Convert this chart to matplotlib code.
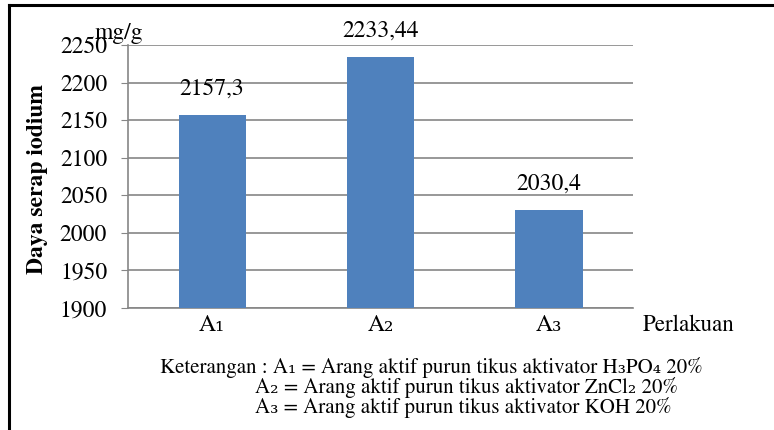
import matplotlib.pyplot as plt
from matplotlib.lines import Line2D

categories = ['A₁', 'A₂', 'A₃']
values = [2157.3, 2233.44, 2030.4]
value_labels = ['2157,3', '2233,44', '2030,4']
yticks = [1900, 1950, 2000, 2050, 2100, 2150, 2200, 2250]
notes = [
    'Keterangan : A₁ = Arang aktif purun tikus aktivator H₃PO₄ 20%',
    'A₂ = Arang aktif purun tikus aktivator ZnCl₂ 20%',
    'A₃ = Arang aktif purun tikus aktivator KOH 20%',
]

plt.rcParams['font.family'] = ['STIXGeneral', 'DejaVu Serif']

W, H = 774, 430
fig = plt.figure(figsize=(W / 100, H / 100), dpi=100)
ax = fig.add_axes([128 / W, 1 - 308 / H, (633 - 128) / W, (308 - 45) / H])

x = range(len(categories))
ax.bar(x, values, width=0.4, color='#4F81BD', zorder=3)
for xi, v, lab in zip(x, values, value_labels):
    ax.annotate(lab, (xi, v), xytext=(0, 11), textcoords='offset points',
                ha='center', va='bottom', fontsize=17, zorder=4)

ax.set_xlim(-0.5, 2.5)
ax.set_ylim(1900, 2250)
ax.set_yticks(yticks)
ax.set_xticks(list(x))
ax.set_xticklabels(categories, fontsize=17)
ax.tick_params(axis='y', labelsize=17, length=5, color='#868686', pad=10)
ax.tick_params(axis='x', length=0, pad=5)
ax.yaxis.grid(True, color='#868686', linewidth=1.2, zorder=0)
for s in ['top', 'right']:
    ax.spines[s].set_visible(False)
for s in ['left', 'bottom']:
    ax.spines[s].set_color('#868686')
    ax.spines[s].set_linewidth(1.2)

fig.text(38 / W, 1 - 179 / H, 'Daya serap iodium', rotation=90, ha='center',
         va='center', fontsize=17, fontweight='bold')
fig.text(119 / W, 1 - 33 / H, 'mg/g', ha='center', va='center', fontsize=17)
fig.text(643 / W, 1 - 325 / H, 'Perlakuan', ha='left', va='center', fontsize=16.5)

fig.text(160 / W, 1 - 367 / H, notes[0], ha='left', va='center', fontsize=15)
fig.text(255 / W, 1 - 388 / H, notes[1], ha='left', va='center', fontsize=15)
fig.text(255 / W, 1 - 408 / H, notes[2], ha='left', va='center', fontsize=15)

# frame around the figure (left and top edges visible)
fig.add_artist(Line2D([9 / W, 9 / W], [0, 1 - 5 / H], color='black', linewidth=2.2))
fig.add_artist(Line2D([9 / W, 1], [1 - 5 / H, 1 - 5 / H], color='black', linewidth=2.2))

fig.savefig('out.png', dpi=100)
